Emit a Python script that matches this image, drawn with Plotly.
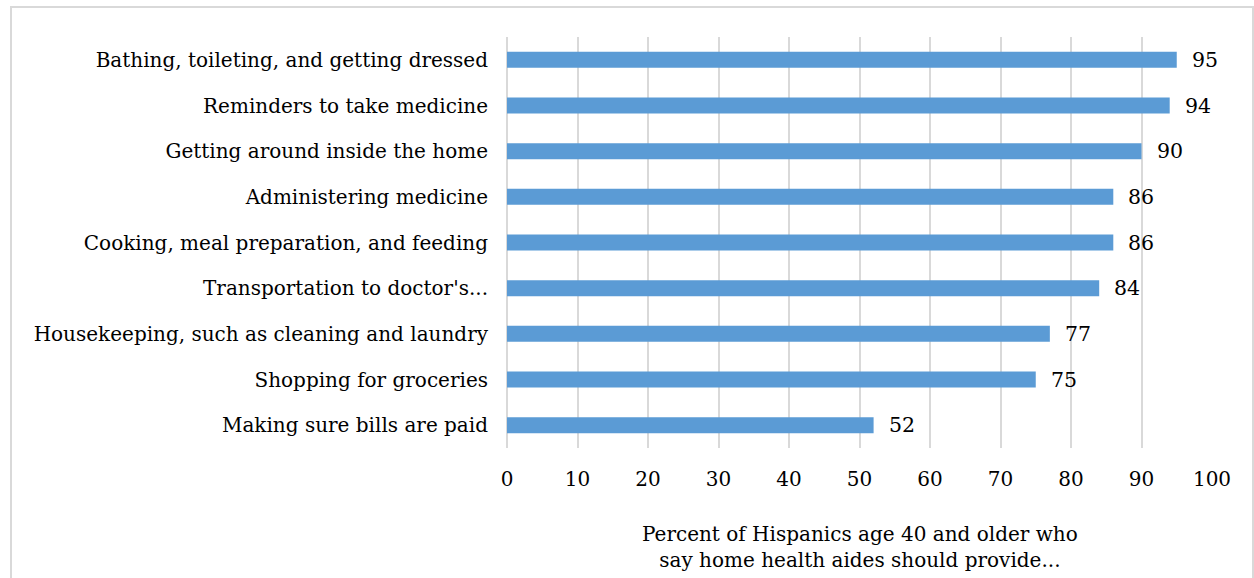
import plotly.graph_objects as go

categories = [
    "Bathing, toileting, and getting dressed",
    "Reminders to take medicine",
    "Getting around inside the home",
    "Administering medicine",
    "Cooking, meal preparation, and feeding",
    "Transportation to doctor's...",
    "Housekeeping, such as cleaning and laundry",
    "Shopping for groceries",
    "Making sure bills are paid",
]
values = [95, 94, 90, 86, 86, 84, 77, 75, 52]
x_ticks = [0, 10, 20, 30, 40, 50, 60, 70, 80, 90, 100]
axis_title = "Percent of Hispanics age 40 and older who<br>say home health aides should provide..."

FONT = "DejaVu Serif"
W, H = 1254, 578
ML, MR, MT, MB = 507, 42, 37, 130
PW, PH = W - ML - MR, H - MT - MB

fig = go.Figure(
    go.Bar(
        x=values,
        y=categories,
        orientation="h",
        marker=dict(color="#5b9bd5", line=dict(width=0)),
        hoverinfo="skip",
    )
)

# value labels just past the end of each bar
for cat, v in zip(categories, values):
    fig.add_annotation(
        x=v, y=cat, xref="x", yref="y", text=str(v),
        showarrow=False, xanchor="left", xshift=13,
        font=dict(family=FONT, size=20.5, color="#000000"),
    )

# axis title below the tick labels
fig.add_annotation(
    x=0.5, y=(PH - (547 - MT)) / PH, xref="paper", yref="paper",
    text=axis_title, showarrow=False, xanchor="center", yanchor="middle",
    font=dict(family=FONT, size=20, color="#000000"),
)

# light frame around the chart
fig.add_shape(
    type="rect", xref="paper", yref="paper",
    x0=(11 - ML) / PW, x1=(1253 - ML) / PW,
    y0=(PH - (590 - MT)) / PH, y1=(PH - (7 - MT)) / PH,
    line=dict(color="#d9d9d9", width=2), fillcolor="rgba(0,0,0,0)", layer="below",
)

fig.update_layout(
    width=W, height=H,
    margin=dict(l=ML, r=MR, t=MT, b=MB),
    paper_bgcolor="white", plot_bgcolor="white",
    bargap=0.65, showlegend=False,
    font=dict(family=FONT, size=20, color="#000000"),
)
fig.update_xaxes(
    range=[0, 100], tickvals=x_ticks, showgrid=True, gridcolor="#d9d9d9", gridwidth=1.5,
    zeroline=True, zerolinecolor="#d9d9d9", zerolinewidth=1.5, showline=False,
    ticklabelstandoff=17, tickfont=dict(family=FONT, size=20, color="#000000"),
)
fig.update_yaxes(
    autorange="reversed", showgrid=False, showline=False, ticklabelstandoff=18,
    tickfont=dict(family=FONT, size=20, color="#000000"),
)

fig.write_html("out.html")
